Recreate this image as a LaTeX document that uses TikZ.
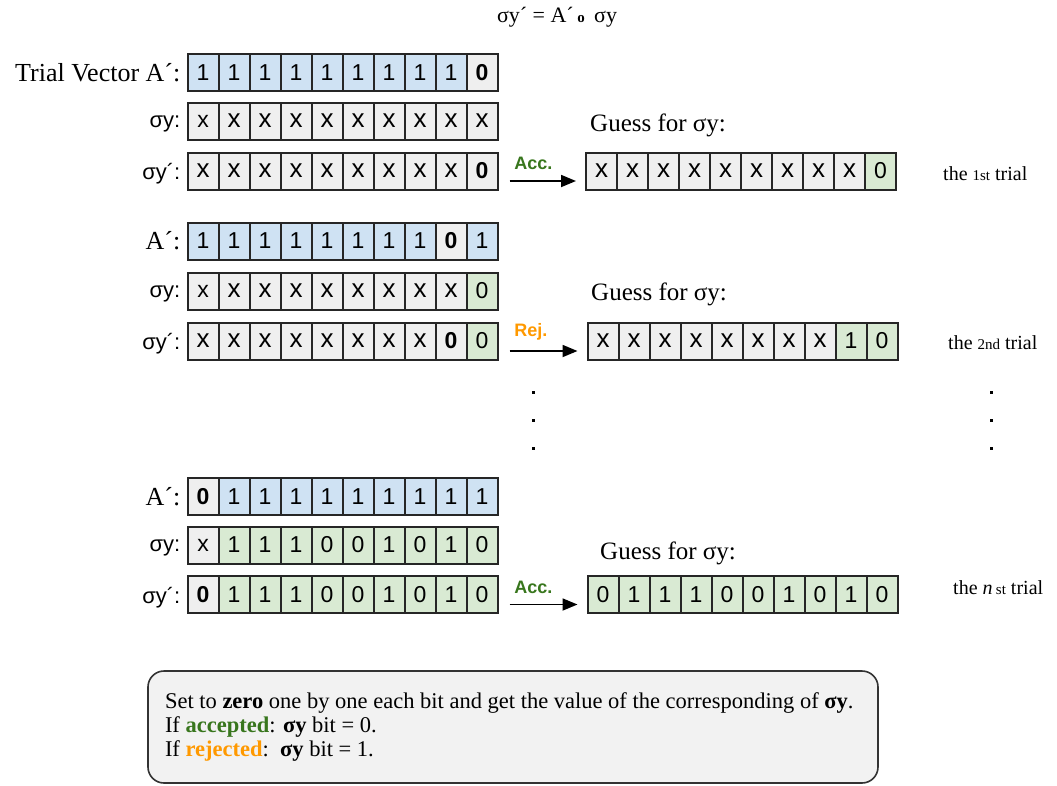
\documentclass[tikz,border=0pt]{standalone}
\usepackage{fontspec}
\setmainfont{Liberation Serif}
\setsansfont{Liberation Sans}
\usetikzlibrary{positioning,arrows.meta}

\definecolor{cb}{RGB}{207,226,243}
\definecolor{cg}{RGB}{239,239,239}
\definecolor{cn}{RGB}{217,234,211}
\definecolor{accgreen}{RGB}{56,118,29}
\definecolor{rejorange}{RGB}{255,153,0}
\definecolor{notefill}{RGB}{242,242,242}

\newcommand\bx{{\fontsize{26}{26}\selectfont x}}
\newcommand\bz{\textbf{0}}
% one row of ten bit cells: name, x of first centre, y, fill/text list
\newcommand\bitrow[4]{%
  \foreach \c/\t [count=\i] in {#4}
    \node[cell, fill=\c] (#1-\i) at ({#2+31*(\i-1)}, #3) {\t};
}

\tikzset{
  cell/.style={draw=black!85, line width=2pt, minimum width=31pt, minimum height=37pt,
    inner sep=0pt, font=\sffamily\fontsize{23}{23}\selectfont},
  serlab/.style={left=6pt, inner sep=0pt, font=\fontsize{26}{26}\selectfont},
  sanlab/.style={left=6pt, inner sep=0pt, yshift=-3pt, font=\sffamily\fontsize{22}{22}\selectfont},
  guesslab/.style={anchor=base west, inner sep=0pt, font=\fontsize{25}{25}\selectfont},
  triallab/.style={anchor=base west, inner sep=0pt, font=\fontsize{20}{20}\selectfont},
  arr/.style={line width=1.8pt, -{Triangle[length=15pt,width=12pt]}},
  verdict/.style={anchor=south west, inner sep=0pt, xshift=4pt, yshift=10pt,
    font=\sffamily\bfseries\fontsize{18}{18}\selectfont},
  note/.style={draw=black!80, line width=1.6pt, fill=notefill, rounded corners=16pt,
    minimum width=730pt, minimum height=112pt, text width=696pt, align=flush left,
    inner sep=0pt, font=\fontsize{22.5}{24}\selectfont},
}

\begin{document}
\begin{tikzpicture}[x=1pt, y=-1pt]
\useasboundingbox (0,0) rectangle (1057,785);

% formula
\node[font=\fontsize{22}{22}\selectfont] (eq) at (557,17)
  {σy´ = A´\,{\fontsize{15}{15}\selectfont\textbf{o}}\, σy};

% first trial
\bitrow{a1}{203}{72.5}{cb/1,cb/1,cb/1,cb/1,cb/1,cb/1,cb/1,cb/1,cb/1,cg/\bz}
\bitrow{s1}{203}{121}{cg/x,cg/\bx,cg/\bx,cg/\bx,cg/\bx,cg/\bx,cg/\bx,cg/\bx,cg/\bx,cg/\bx}
\bitrow{t1}{203}{171}{cg/\bx,cg/\bx,cg/\bx,cg/\bx,cg/\bx,cg/\bx,cg/\bx,cg/\bx,cg/\bx,cg/\bz}
\bitrow{g1}{601.5}{171}{cg/\bx,cg/\bx,cg/\bx,cg/\bx,cg/\bx,cg/\bx,cg/\bx,cg/\bx,cg/\bx,cn/0}
\node[serlab, left=6pt of a1-1] (la1) {Trial Vector A´:};
\node[sanlab, left=6pt of s1-1] (ls1) {σy:};
\node[sanlab, left=6pt of t1-1] (lt1) {σy´:};
\node[guesslab] (gl1) at (590,131) {Guess for σy:};
\draw[arr] ([xshift=11pt,yshift=-10pt]t1-10.east) -- ([xshift=-9pt,yshift=-10pt]g1-1.west)
  node[verdict, pos=0, text=accgreen] (v1) {Acc.};
\node[triallab] (tr1) at (943,180) {the {\fontsize{15}{15}\selectfont 1st} trial};

% second trial
\bitrow{a2}{203}{241}{cb/1,cb/1,cb/1,cb/1,cb/1,cb/1,cb/1,cb/1,cg/\bz,cb/1}
\bitrow{s2}{203}{291}{cg/x,cg/\bx,cg/\bx,cg/\bx,cg/\bx,cg/\bx,cg/\bx,cg/\bx,cg/\bx,cn/0}
\bitrow{t2}{203}{341}{cg/\bx,cg/\bx,cg/\bx,cg/\bx,cg/\bx,cg/\bx,cg/\bx,cg/\bx,cg/\bz,cn/0}
\bitrow{g2}{603}{341}{cg/\bx,cg/\bx,cg/\bx,cg/\bx,cg/\bx,cg/\bx,cg/\bx,cg/\bx,cn/1,cn/0}
\node[serlab, left=6pt of a2-1] (la2) {A´:};
\node[sanlab, left=6pt of s2-1] (ls2) {σy:};
\node[sanlab, left=6pt of t2-1] (lt2) {σy´:};
\node[guesslab] (gl2) at (591,300) {Guess for σy:};
\draw[arr] ([xshift=11pt,yshift=-10pt]t2-10.east) -- ([xshift=-9pt,yshift=-10pt]g2-1.west)
  node[verdict, pos=0, text=rejorange] (v2) {Rej.};
\node[triallab] (tr2) at (948,349) {the {\fontsize{15}{15}\selectfont 2nd} trial};

% dots
\foreach \yy in {391,419,447} {
  \fill (532,\yy) rectangle +(3,3);
  \fill (990,\yy) rectangle +(3,3);
}

% n-th trial
\bitrow{a3}{203}{496.5}{cg/\bz,cb/1,cb/1,cb/1,cb/1,cb/1,cb/1,cb/1,cb/1,cb/1}
\bitrow{s3}{203}{545}{cg/x,cn/1,cn/1,cn/1,cn/0,cn/0,cn/1,cn/0,cn/1,cn/0}
\bitrow{t3}{203}{594.5}{cg/\bz,cn/1,cn/1,cn/1,cn/0,cn/0,cn/1,cn/0,cn/1,cn/0}
\bitrow{g3}{603}{594.5}{cn/0,cn/1,cn/1,cn/1,cn/0,cn/0,cn/1,cn/0,cn/1,cn/0}
\node[serlab, left=6pt of a3-1] (la3) {A´:};
\node[sanlab, left=6pt of s3-1] (ls3) {σy:};
\node[sanlab, left=6pt of t3-1] (lt3) {σy´:};
\node[guesslab] (gl3) at (600,559) {Guess for σy:};
\draw[arr] ([xshift=11pt,yshift=-10pt]t3-10.east) -- ([xshift=-9pt,yshift=-10pt]g3-1.west)
  node[verdict, pos=0, text=accgreen] (v3) {Acc.};
\node[triallab] (tr3) at (953,594) {the \textit{n}\,{\fontsize{15}{15}\selectfont st} trial};

% explanation
\node[note] (nt) at (513,727) {Set to \textbf{zero} one by one each bit and get the value of the corresponding of \textbf{σy}.\\
If \textcolor{accgreen}{\textbf{accepted}}: \textbf{σy} bit = 0.\\
If \textcolor{rejorange}{\textbf{rejected}}:\ \ \textbf{σy} bit = 1.};
\end{tikzpicture}
\end{document}
